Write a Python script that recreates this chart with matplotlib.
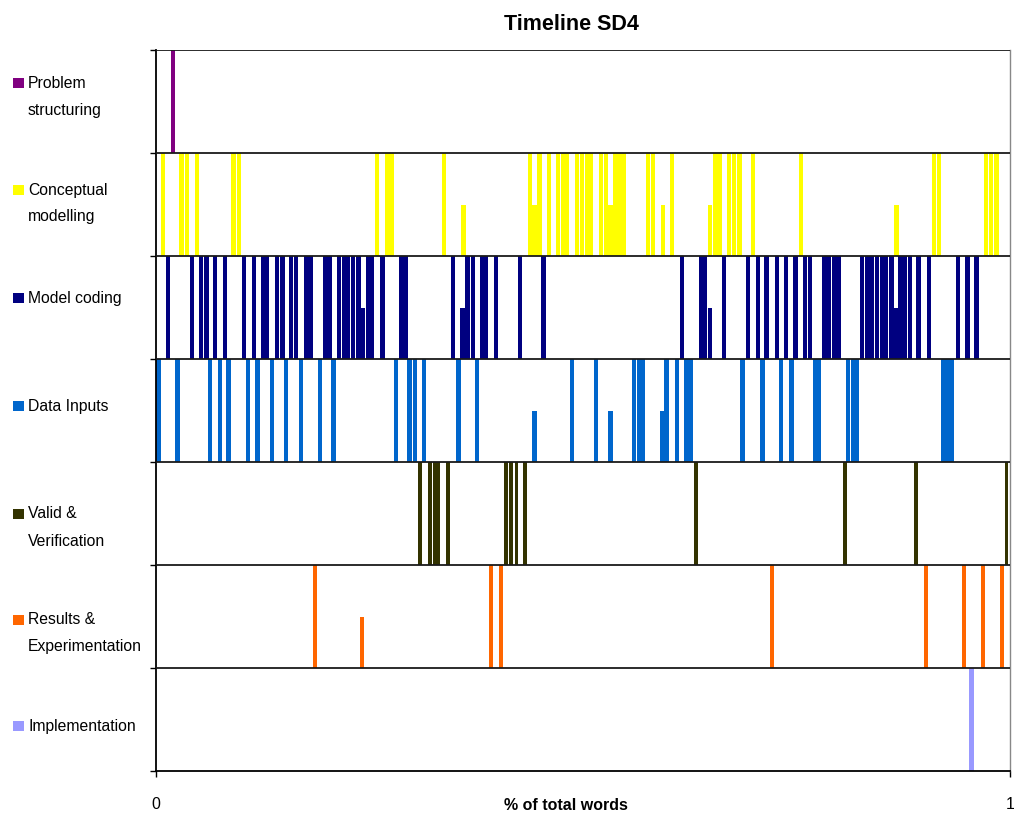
import matplotlib
matplotlib.use("Agg")
import matplotlib.pyplot as plt
from matplotlib.patches import Rectangle

plt.rcParams["font.family"] = ["Liberation Sans", "DejaVu Sans"]

# Activity categories, top row first
categories = ["Problem\nstructuring", "Conceptual\nmodelling", "Model coding", "Data Inputs",
              "Valid &\nVerification", "Results &\nExperimentation", "Implementation"]
colors = ["#800080", "#FFFF00", "#000080", "#0066CC", "#333300", "#FF6600", "#9999FF"]

# Bar positions (fraction of total words); full-height and half-height marks per row
problem_full = [0.020]
problem_half = []

conceptual_full = [0.008, 0.030, 0.036, 0.048, 0.091, 0.097, 0.259, 0.271, 0.276, 0.337,
                   0.438, 0.449, 0.460, 0.471, 0.477, 0.481, 0.493, 0.499, 0.505, 0.509,
                   0.521, 0.527, 0.538, 0.543, 0.548, 0.576, 0.582, 0.604, 0.655, 0.660,
                   0.671, 0.677, 0.683, 0.699, 0.755, 0.911, 0.917, 0.972, 0.978, 0.984]
conceptual_half = [0.360, 0.443, 0.532, 0.594, 0.649, 0.867]

coding_full = [0.014, 0.042, 0.053, 0.059, 0.069, 0.081, 0.103, 0.115, 0.125, 0.130,
               0.142, 0.148, 0.158, 0.164, 0.176, 0.181, 0.198, 0.203, 0.214, 0.220,
               0.225, 0.231, 0.237, 0.248, 0.253, 0.265, 0.287, 0.292, 0.348, 0.365,
               0.371, 0.382, 0.386, 0.398, 0.426, 0.454, 0.616, 0.638, 0.643, 0.665,
               0.693, 0.705, 0.715, 0.727, 0.738, 0.749, 0.760, 0.766, 0.783, 0.788,
               0.794, 0.799, 0.827, 0.833, 0.838, 0.844, 0.850, 0.855, 0.861, 0.872,
               0.877, 0.883, 0.893, 0.905, 0.939, 0.950, 0.961]
coding_half = [0.242, 0.359, 0.649, 0.867]

data_full = [0.0028, 0.025, 0.063, 0.075, 0.085, 0.108, 0.119, 0.136, 0.152, 0.170,
             0.192, 0.208, 0.281, 0.297, 0.303, 0.314, 0.354, 0.376, 0.487, 0.515,
             0.560, 0.566, 0.570, 0.598, 0.610, 0.621, 0.626, 0.687, 0.710, 0.732,
             0.744, 0.772, 0.776, 0.810, 0.816, 0.821, 0.922, 0.927, 0.932]
data_half = [0.443, 0.532, 0.593]

valid_full = [0.309, 0.321, 0.326, 0.330, 0.342, 0.410, 0.416, 0.422, 0.432, 0.632,
              0.807, 0.890, 0.996]
valid_half = []

results_full = [0.186, 0.392, 0.404, 0.721, 0.902, 0.946, 0.968, 0.991]
results_half = [0.241]

impl_full = [0.955]
impl_half = []

rows = [
    (problem_full, problem_half),
    (conceptual_full, conceptual_half),
    (coding_full, coding_half),
    (data_full, data_half),
    (valid_full, valid_half),
    (results_full, results_half),
    (impl_full, impl_half),
]
bar_widths = [0.0052, 0.0052, 0.0052, 0.0052, 0.0044, 0.0044, 0.0050]

W, H = 1014, 818
fig = plt.figure(figsize=(W / 100, H / 100), dpi=100)
ax = fig.add_axes([156 / W, 1 - 771 / H, (1010 - 156) / W, (771 - 50) / H])

n = len(categories)
for i, ((full, half), col, bw) in enumerate(zip(rows, colors, bar_widths)):
    base = n - 1 - i
    if full:
        ax.bar(full, [1.0] * len(full), width=bw, bottom=base, color=col, linewidth=0, zorder=2)
    if half:
        ax.bar(half, [0.5] * len(half), width=bw, bottom=base, color=col, linewidth=0, zorder=2)

# row separators
ax.hlines(range(1, n + 1), 0, 1, colors="#1a1a1a", linewidth=1.3, zorder=3)

ax.set_xlim(0, 1)
ax.set_ylim(0, n)
ax.set_xticks([0, 1])
ax.set_xticklabels(["0", "1"], fontsize=11.5)
ax.set_yticks(range(n + 1))
ax.set_yticklabels([])
ax.tick_params(direction="out", length=4, width=1, pad=15)
ax.spines["top"].set_visible(False)
ax.spines["right"].set_color("#888888")
ax.spines["right"].set_linewidth(1.0)
ax.spines["left"].set_linewidth(1.3)
ax.spines["bottom"].set_linewidth(1.3)

# legend-like row labels on the left
label_y = [83, 190, 298, 406, 514, 620, 726]
for lab, col, yp in zip(categories, colors, label_y):
    fig.patches.append(Rectangle((13 / W, 1 - (yp + 5) / H), 11 / W, 10 / H,
                                 transform=fig.transFigure, facecolor=col, edgecolor="none"))
    for k, line in enumerate(lab.split("\n")):
        fig.text(28 / W, 1 - (yp + 27 * k) / H, line, fontsize=11.3, va="center", ha="left")

fig.text(571 / W, 1 - 24 / H, "Timeline SD4", fontsize=15.5, fontweight="bold", ha="center", va="center")
fig.text(566 / W, 1 - 805 / H, "% of total words", fontsize=11.5, fontweight="bold", ha="center", va="center")

fig.savefig("out.png", dpi=100)
